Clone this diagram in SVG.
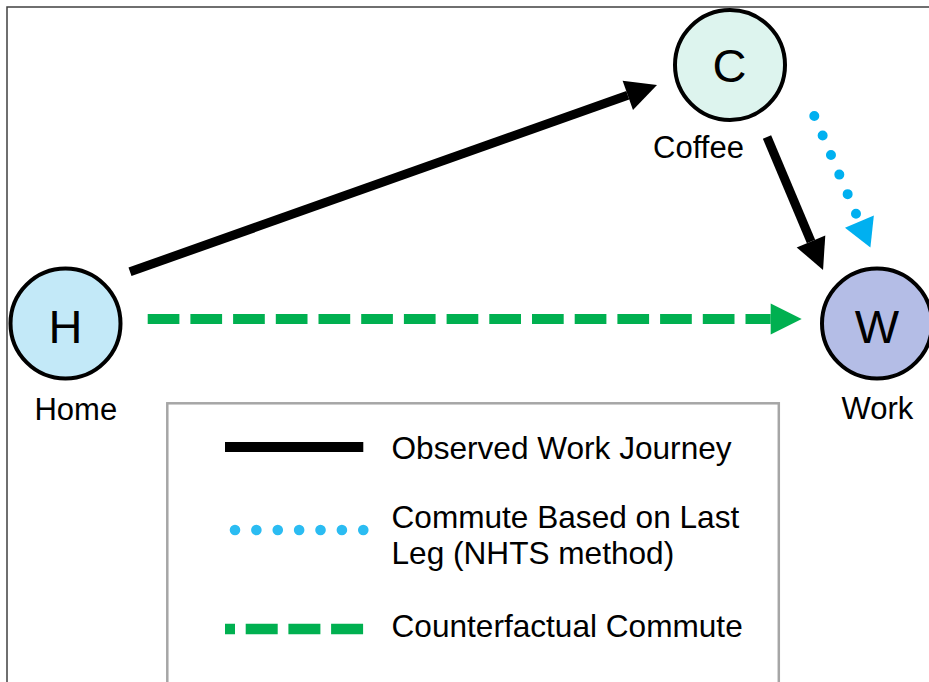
<svg xmlns="http://www.w3.org/2000/svg" width="929" height="682" viewBox="0 0 929 682">
  <style>
    .node { stroke: #000; stroke-width: 4; }
    .big { font-family: "Liberation Sans", Arial, sans-serif; font-size: 47px; fill: #000; text-anchor: middle; }
    .lbl { font-family: "Liberation Sans", Arial, sans-serif; font-size: 31px; fill: #000; }
    .leg { font-size: 31.6px; }
    .mid { text-anchor: middle; }
    .black { stroke: #000; stroke-width: 9; fill: none; }
    .blue { stroke: #00b0f0; stroke-width: 10; fill: none; stroke-linecap: round; stroke-dasharray: 0 21.24; }
    .green { stroke: #00b050; stroke-width: 10; fill: none; stroke-dasharray: 31.7 11; }
  </style>
  <defs>
    <marker id="headBlack" markerUnits="userSpaceOnUse" markerWidth="40" markerHeight="40" refX="0" refY="20" orient="auto" overflow="visible">
      <path d="M0,4.5 L31,20 L0,35.5 z" fill="#000"/>
    </marker>
    <marker id="headBlue" markerUnits="userSpaceOnUse" markerWidth="40" markerHeight="40" refX="0" refY="20" orient="auto" overflow="visible">
      <path d="M8.7,4.3 L36.7,20 L8.7,35.7 z" fill="#00b0f0"/>
    </marker>
    <marker id="headGreen" markerUnits="userSpaceOnUse" markerWidth="40" markerHeight="40" refX="0" refY="20" orient="auto" overflow="visible">
      <path d="M0,4.5 L31,20 L0,35.5 z" fill="#00b050"/>
    </marker>
  </defs>

  <rect width="929" height="682" fill="#fff"/>
  <!-- outer frame -->
  <path d="M7,682 L7,7 L929,7" fill="none" stroke="#404040" stroke-width="1.5"/>

  <g id="connectors">
    <line class="black" x1="130" y1="271.8" x2="627.8" y2="95.3" marker-end="url(#headBlack)"/>
    <line class="black" x1="767" y1="137" x2="811" y2="241.4" marker-end="url(#headBlack)"/>
    <line class="blue" x1="814.3" y1="116" x2="856" y2="213.7" marker-end="url(#headBlue)"/>
    <line class="green" x1="147.7" y1="319" x2="770.7" y2="319" marker-end="url(#headGreen)"/>
  </g>

  <g id="node-H">
    <circle class="node" cx="65.5" cy="323.5" r="55" fill="#c3e9f8"/>
    <text class="big" x="65.5" y="342.5">H</text>
    <text class="lbl mid" x="75.8" y="419.5">Home</text>
  </g>
  <g id="node-C">
    <circle class="node" cx="730" cy="65" r="55" fill="#ddf4ee"/>
    <text class="big" x="729.5" y="82">C</text>
    <text class="lbl mid" x="698.5" y="157.5">Coffee</text>
  </g>
  <g id="node-W">
    <circle class="node" cx="877" cy="323.5" r="55" fill="#b4bde6"/>
    <text class="big" x="877" y="342.5">W</text>
    <text class="lbl mid" x="877.5" y="419">Work</text>
  </g>

  <g id="legend">
    <rect x="167.3" y="403.3" width="611.5" height="300" fill="none" stroke="#a6a6a6" stroke-width="2.5"/>
    <line x1="225" y1="447" x2="363.3" y2="447" stroke="#000" stroke-width="10"/>
    <text class="lbl leg" x="391.5" y="459">Observed Work Journey</text>
    <line x1="235" y1="530" x2="363.3" y2="530" stroke="#2bbcf2" stroke-width="10.6" stroke-linecap="round" stroke-dasharray="0 21.38"/>
    <text class="lbl leg" x="391.5" y="528.3">Commute Based on Last</text>
    <text class="lbl leg" x="391.5" y="563.5">Leg (NHTS method)</text>
    <line x1="225" y1="629" x2="363.3" y2="629" stroke="#00b050" stroke-width="10.6" stroke-dasharray="32 10.7" stroke-dashoffset="22"/>
    <text class="lbl leg" x="391.5" y="637">Counterfactual Commute</text>
  </g>
</svg>
